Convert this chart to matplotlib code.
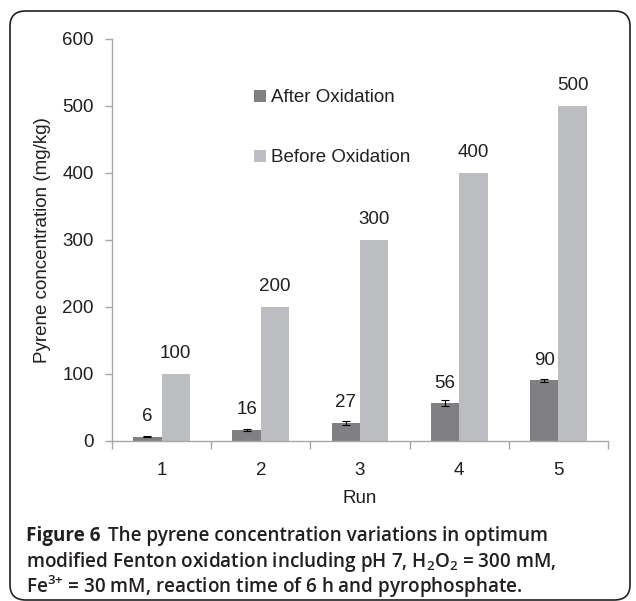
import numpy as np
import matplotlib.pyplot as plt
from matplotlib.patches import FancyBboxPatch

plt.rcParams['font.family'] = ['Liberation Sans', 'DejaVu Sans']
plt.rcParams['mathtext.fontset'] = 'custom'
plt.rcParams['mathtext.rm'] = 'Open Sans:semibold'

runs = ['1', '2', '3', '4', '5']
after = [6, 16, 27, 56, 90]
after_err = [1, 2, 3, 4, 2.5]
before = [100, 200, 300, 400, 500]

txt = '#231f20'
axcol = '#a6a6a6'
fs = 13.5

fig = plt.figure(figsize=(6.36, 6.01), dpi=100)
ax = fig.add_axes([112 / 636, 1 - 440.7 / 601, 496 / 636, 402 / 601])

x = np.arange(len(runs))
w = 1 / 3.5
ax.bar(x - w / 2, after, w, color='#808083', label='After Oxidation',
       yerr=after_err, error_kw=dict(ecolor='black', elinewidth=0.8, capsize=3, capthick=0.8))
ax.bar(x + w / 2, before, w, color='#bcbdc0', label='Before Oxidation')

for xi, v in zip(x, after):
    ax.annotate(str(v), (xi - w / 2, v), xytext=(0, 14.5), textcoords='offset points',
                ha='center', va='center', fontsize=fs, color=txt)
for xi, v in zip(x, before):
    ax.annotate(str(v), (xi + w / 2, v), xytext=(0, 14.5), textcoords='offset points',
                ha='center', va='center', fontsize=fs, color=txt)

ax.set_xlim(-0.5, 4.5)
ax.set_ylim(0, 600)
ax.set_yticks(range(0, 601, 100))
ax.set_xticks(x)
ax.set_xticklabels(runs)
ax.set_xticks(np.arange(-0.5, 5, 1), minor=True)
ax.tick_params(axis='x', which='major', length=0, pad=15, labelsize=fs, labelcolor=txt)
ax.tick_params(axis='x', which='minor', length=6, color=axcol, width=1)
ax.tick_params(axis='y', length=5, color=axcol, width=1, pad=8, labelsize=fs, labelcolor=txt)
for s in ['top', 'right']:
    ax.spines[s].set_visible(False)
for s in ['left', 'bottom']:
    ax.spines[s].set_color(axcol)
    ax.spines[s].set_linewidth(1)

ax.set_xlabel('Run', fontsize=fs, color=txt, labelpad=8)
ax.set_ylabel('Pyrene concentration (mg/kg)', fontsize=fs, color=txt, labelpad=8)

ax.legend(loc='upper left', bbox_to_anchor=(245 / 636, 1 - 80 / 601), bbox_transform=fig.transFigure,
          frameon=False, fontsize=fs, handlelength=0.6, handleheight=0.6, handletextpad=0.3,
          labelspacing=2.3, labelcolor=txt, borderpad=0)

# rounded frame
frame = FancyBboxPatch((10 / 636, 1 / 601), 620 / 636, 589 / 601,
                       boxstyle='round,pad=0,rounding_size=0.025', transform=fig.transFigure,
                       fill=False, edgecolor='#231f20', linewidth=1.2)
fig.patches.append(frame)

# caption
cx = 26 / 636
cfs = 13.6
fig.text(cx, 1 - 536 / 601, 'Figure 6', fontsize=cfs, fontweight='bold', family='Open Sans',
         color=txt, va='center')
fig.text(cx + 82 / 636, 1 - 536 / 601, 'The pyrene concentration variations in optimum',
         fontsize=cfs, fontweight='semibold', family='Open Sans', color=txt, va='center')
fig.text(cx, 1 - 562 / 601, r'modified Fenton oxidation including pH 7, H$_2$O$_2$ = 300 mM,',
         fontsize=cfs, fontweight='semibold', family='Open Sans', color=txt, va='center')
fig.text(cx, 1 - 587 / 601, r'Fe$^{3{+}}$ = 30 mM, reaction time of 6 h and pyrophosphate.',
         fontsize=cfs, fontweight='semibold', family='Open Sans', color=txt, va='center')

fig.savefig('out.png', dpi=100)
